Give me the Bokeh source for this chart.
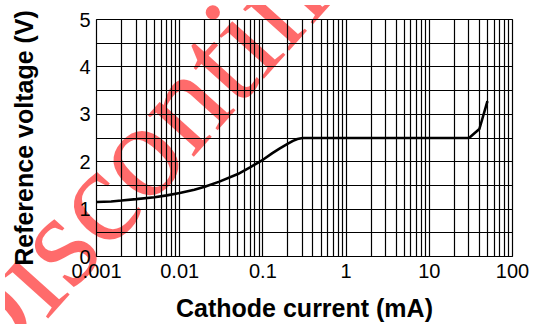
from bokeh.plotting import figure
from bokeh.models import FixedTicker, Div
from bokeh.layouts import column
from bokeh.embed import file_html
from bokeh.resources import INLINE

# ---- data ----
current_mA = [0.001, 0.0015, 0.002, 0.003, 0.005, 0.007, 0.01, 0.015, 0.02, 0.03,
              0.05, 0.07, 0.1, 0.13, 0.16, 0.2, 0.23, 0.26, 0.3, 0.5, 1, 3, 10, 20,
              30, 40, 50]
ref_voltage = [1.15, 1.16, 1.18, 1.21, 1.25, 1.29, 1.34, 1.41, 1.47, 1.58,
               1.74, 1.88, 2.04, 2.18, 2.28, 2.38, 2.44, 2.48, 2.5, 2.5, 2.5, 2.5, 2.5, 2.5,
               2.5, 2.69, 3.28]
x_ticks = [0.001, 0.01, 0.1, 1, 10, 100]
x_tick_labels = ["0.001", "0.01", "0.1", "1", "10", "100"]
y_ticks = [0, 1, 2, 3, 4, 5]
y_grid = [0, 0.5, 1, 1.5, 2, 2.5, 3, 3.5, 4, 4.5, 5]
watermark = "Discontinued"

# minor log grid positions: 1..9 in every decade
x_grid = []
for d in x_ticks[:-1]:
    for m in range(1, 10):
        x_grid.append(d * m)
x_grid.append(x_ticks[-1])

W, H = 530, 322
p = figure(width=W, height=H, x_axis_type="log",
           x_range=(x_ticks[0], x_ticks[-1]), y_range=(y_ticks[0], y_ticks[-1]),
           output_backend="svg", toolbar_location=None,
           frame_width=416, frame_height=237,
           min_border_left=96, min_border_right=18, min_border_top=19,
           min_border_bottom=66,
           styles={"position": "relative", "z-index": "1"})

# transparent so the watermark (behind) shows through, like the reference
p.background_fill_alpha = 0
p.border_fill_alpha = 0
p.outline_line_color = "black"
p.outline_line_width = 1.2

p.xgrid.ticker = FixedTicker(ticks=x_grid)
p.ygrid.ticker = FixedTicker(ticks=y_grid)
for g in (p.xgrid, p.ygrid):
    g.grid_line_color = "black"
    g.grid_line_alpha = 1.0
    g.grid_line_width = 1.2

p.line(current_mA, ref_voltage, line_color="black", line_width=2.6)

p.xaxis.ticker = FixedTicker(ticks=x_ticks)
p.xaxis.major_label_overrides = {t: l for t, l in zip(x_ticks, x_tick_labels)}
p.yaxis.ticker = FixedTicker(ticks=y_ticks)

for ax in (p.xaxis[0], p.yaxis[0]):
    ax.axis_line_color = None
    ax.major_tick_line_color = None
    ax.minor_tick_line_color = None
    ax.major_tick_in = 0
    ax.major_tick_out = 0
    ax.minor_tick_out = 0
    ax.major_label_text_font = "Liberation Sans"
    ax.major_label_text_font_size = "20px"
    ax.major_label_text_color = "black"
    ax.axis_label_text_font = "Liberation Sans"
    ax.axis_label_text_font_size = "25px"
    ax.axis_label_text_font_style = "bold"
    ax.axis_label_text_color = "black"

p.xaxis.axis_label = "Cathode current (mA)"
p.yaxis.axis_label = "Reference voltage (V)"
p.xaxis.major_label_standoff = 7
p.xaxis.axis_label_standoff = 13
p.yaxis.major_label_standoff = 6
p.yaxis.axis_label_standoff = 38

# watermark text, drawn behind the (transparent) figure
wm_html = (
    f'<div style="position:relative;width:{W}px;height:{H}px;overflow:hidden;">'
    '<div style="position:absolute;left:183px;top:90px;'
    'transform:translate(-50%,-50%) rotate(-48deg);white-space:nowrap;'
    "font-family:'Liberation Serif';font-size:135px;line-height:1;"
    f'color:rgba(255,0,0,0.58);">{watermark}</div></div>'
)
wm_div = Div(text=wm_html, width=W, height=H,
             styles={"position": "absolute", "left": "0px", "top": "0px",
                     "z-index": "0"})

layout = column(wm_div, p)

open("out.html", "w").write(file_html(layout, INLINE))
